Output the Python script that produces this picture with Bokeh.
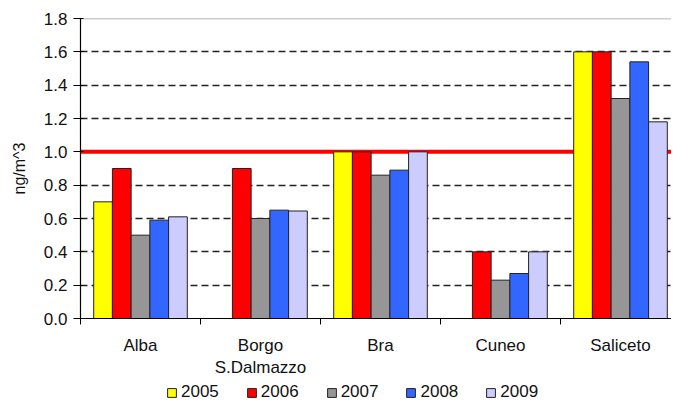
from bokeh.plotting import figure
from bokeh.layouts import column
from bokeh.models import (Range1d, FixedTicker, Span, Legend, LegendItem,
                          ColumnDataSource, NumeralTickFormatter)
from bokeh.transform import dodge
from bokeh.embed import file_html
from bokeh.resources import INLINE

# ---- data ----
categories = ["Alba", "Borgo\nS.Dalmazzo", "Bra", "Cuneo", "Saliceto"]
years = ["2005", "2006", "2007", "2008", "2009"]
v2005 = [0.70, None, 1.00, None, 1.60]
v2006 = [0.90, 0.90, 1.00, 0.40, 1.60]
v2007 = [0.50, 0.60, 0.86, 0.23, 1.32]
v2008 = [0.59, 0.65, 0.89, 0.27, 1.54]
v2009 = [0.61, 0.645, 1.00, 0.40, 1.18]
series = [v2005, v2006, v2007, v2008, v2009]
y_ticks = [0.0, 0.2, 0.4, 0.6, 0.8, 1.0, 1.2, 1.4, 1.6, 1.8]
LIMIT = 1.0

# ---- styles ----
colors = ["#FFFF00", "#FF0000", "#969696", "#3366FF", "#CCCCFF"]
FONT = "Liberation Sans"
n = len(categories)
centers = [i + 0.5 for i in range(n)]
bounds = [float(i) for i in range(n + 1)]
bar_w = 0.156
offsets = [(k - 2) * bar_w for k in range(len(years))]
W = 671
LEFT = 80
CAT_PX = 120

p = figure(width=W, height=382, output_backend="svg", toolbar_location=None,
           x_range=Range1d(0, (W - LEFT) / CAT_PX), y_range=Range1d(0, 1.8),
           min_border_left=LEFT, min_border_top=18, min_border_right=0,
           min_border_bottom=64)
p.outline_line_color = None
p.background_fill_color = "white"
p.border_fill_color = "white"

# grid
p.xgrid.visible = False
p.ygrid.ticker = FixedTicker(ticks=y_ticks[1:-1])
p.ygrid.grid_line_color = "#222222"
p.ygrid.grid_line_dash = "7 4"
p.ygrid.grid_line_width = 1.5

top_line = Span(location=y_ticks[-1], dimension="width", line_color="#999999",
                line_width=1.5, level="underlay")
p.add_layout(top_line)
limit_line = Span(location=LIMIT, dimension="width", line_color="#FF0000",
                  line_width=4, level="underlay")
p.add_layout(limit_line)

sources = []
for k, (yr, vals) in enumerate(zip(years, series)):
    xs = [c for c, v in zip(centers, vals) if v is not None]
    tops = [v for v in vals if v is not None]
    src = ColumnDataSource(dict(x=xs, top=tops))
    sources.append(src)
    p.vbar(x=dodge("x", offsets[k]), top="top", width=bar_w, source=src,
           fill_color=colors[k], line_color="#222222", line_width=1)

# y axis
ya = p.yaxis[0]
ya.ticker = FixedTicker(ticks=y_ticks)
ya.formatter = NumeralTickFormatter(format="0.0")
ya.axis_label = "ng/m^3"
ya.axis_label_text_font = FONT
ya.axis_label_text_font_size = "16px"
ya.axis_label_text_font_style = "normal"
ya.axis_label_text_color = "#111111"
ya.axis_label_standoff = 13
ya.major_label_text_font = FONT
ya.major_label_text_font_size = "17px"
ya.major_label_text_color = "#111111"
ya.major_label_standoff = 6
ya.major_tick_out = 7
ya.major_tick_in = 3
ya.minor_tick_line_color = None
ya.axis_line_color = "#000000"
ya.major_tick_line_color = "#000000"
ya.axis_line_width = 1.2

# x axis
xa = p.xaxis[0]
xa.ticker = FixedTicker(ticks=centers, minor_ticks=bounds)
xa.major_label_overrides = {c: lab for c, lab in zip(centers, categories)}
xa.major_label_text_font = FONT
xa.major_label_text_font_size = "17px"
xa.major_label_text_color = "#111111"
xa.major_label_standoff = 11
xa.major_tick_out = 0
xa.major_tick_in = 0
xa.major_tick_line_color = None
xa.minor_tick_out = 6
xa.minor_tick_in = 0
xa.minor_tick_line_color = "#000000"
xa.axis_line_color = "#000000"
xa.axis_line_width = 1.2

# ---- legend strip (separate figure underneath; its bars lie far out of view) ----
lg = figure(width=W, height=20, output_backend="svg", toolbar_location=None,
            x_axis_type=None, y_axis_type=None,
            x_range=Range1d(0, n), y_range=Range1d(1000, 1001),
            min_border=0)
lg.outline_line_color = None
lg.xgrid.visible = False
lg.ygrid.visible = False
items = []
for k, yr in enumerate(years):
    r = lg.vbar(x="x", top="top", width=bar_w, source=sources[k],
                fill_color=colors[k], line_color="#222222", line_width=1)
    items.append(LegendItem(label=yr, renderers=[r]))
legend = Legend(items=items, orientation="horizontal", location=(86, 0),
                glyph_width=11, glyph_height=11, label_standoff=4, spacing=27,
                padding=0, margin=0, border_line_color=None,
                background_fill_alpha=0, label_height=18,
                label_text_font=FONT, label_text_font_size="17px",
                label_text_color="#111111")
lg.add_layout(legend)

layout = column(p, lg, spacing=0)
open("out.html", "w").write(file_html(layout, INLINE))
